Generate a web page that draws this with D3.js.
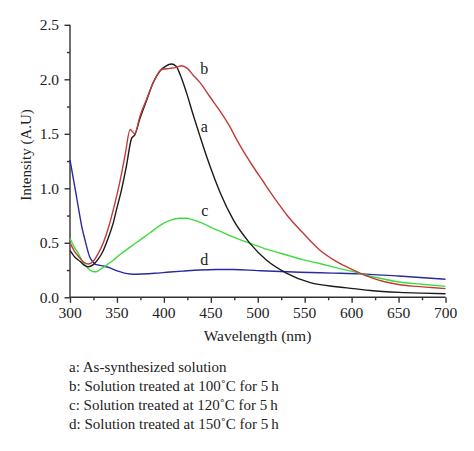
<!DOCTYPE html>
<html><head><meta charset="utf-8">
<script src="https://cdn.jsdelivr.net/npm/d3@7"></script>
<style>body{margin:0;background:#fff}svg{display:block}text{font-family:"Liberation Serif","DejaVu Serif",serif;fill:#222}</style>
</head><body><svg id="c" width="474" height="451"></svg>
<script>
const xTicks = [300,350,400,450,500,550,600,650,700];
const yTicks = [0.0,0.5,1.0,1.5,2.0,2.5];
const seriesNames = ["a","b","c","d"];
const seriesColors = ["#1a1a1a","#c23b36","#3fdc3f","#2a2aa0"];
const aX = [300,305,310.6,315,319.5,324.8,330,335.5,341,346,350,355,360,365.7,369,374.5,381.7,388.7,395.8,402,408,413,417.5,424,431,438,446,454,460,474,491.7,509.5,531,556,584,602,620,651,675,700];
const aY = [0.43,0.37,0.33,0.295,0.28,0.30,0.35,0.43,0.55,0.68,0.82,0.99,1.2,1.46,1.49,1.64,1.81,1.97,2.075,2.12,2.14,2.12,2.04,1.88,1.68,1.49,1.28,1.09,0.96,0.71,0.495,0.34,0.22,0.134,0.097,0.08,0.062,0.045,0.038,0.033];
const bX = [300,305,310.6,315,319.5,324.8,330,335.5,341,346,350,355,359,364,369,374.5,381.7,388.7,397.6,406.5,413,419,425,431,438.5,449,459.7,470,478,495,506,513,522,531,548.5,566,584,602,618,634,650,669,685,700];
const bY = [0.5,0.42,0.36,0.32,0.305,0.33,0.4,0.5,0.64,0.8,0.94,1.14,1.32,1.54,1.5,1.66,1.82,1.97,2.09,2.1,2.11,2.125,2.1,2.04,1.97,1.84,1.71,1.57,1.44,1.2,1.06,0.97,0.86,0.755,0.587,0.434,0.327,0.25,0.19,0.145,0.117,0.1,0.09,0.08];
const cX = [300,304,309,313,317.7,321,324.8,328,332,339,346,353,364,374.5,385,396,406.5,417,424,431,438,445,452,460,475,481,492,510,531,548,566,584,602,615,630,651,675,700];
const cY = [0.54,0.47,0.40,0.33,0.28,0.25,0.235,0.235,0.255,0.296,0.34,0.39,0.46,0.525,0.59,0.66,0.705,0.725,0.725,0.71,0.69,0.665,0.635,0.605,0.55,0.53,0.495,0.44,0.388,0.345,0.31,0.27,0.235,0.205,0.175,0.14,0.12,0.10];
const dX = [300,306,310.6,313,316,318.5,321,324,326.6,331,335.5,342.6,348,353,358,364,371,378,390,406.5,420,438,456,474,500,545,580,609,650,700];
const dY = [1.26,0.97,0.74,0.63,0.525,0.44,0.37,0.33,0.305,0.295,0.287,0.27,0.25,0.235,0.222,0.214,0.212,0.214,0.22,0.232,0.24,0.25,0.255,0.255,0.245,0.23,0.222,0.215,0.195,0.165];
const labelX = [443,443,443.5,443];
const labelY = [1.57,2.10,0.80,0.35];
const legendLines = ["a: As-synthesized solution","b: Solution treated at 100\u02DAC for 5\u2009h","c: Solution treated at 120\u02DAC for 5\u2009h","d: Solution treated at 150\u02DAC for 5\u2009h"];

const svg = d3.select("#c");
const x = d3.scaleLinear().domain([300,700]).range([70,445.5]);
const y = d3.scaleLinear().domain([0,2.5]).range([297.3,24.8]);

const gx = svg.append("g").attr("transform","translate(0,297.3)");
gx.call(d3.axisBottom(x).tickValues(d3.range(300,701,25)).tickSize(3).tickFormat(""));
gx.call(g=>g.selectAll(".tick").filter(d=>d%50===0).select("line").attr("y2",5.5));
gx.selectAll("path,line").attr("stroke","#333").attr("stroke-width",1.4);
gx.select(".domain").attr("d","M70,0H445.5");
gx.selectAll(".lbl").data(xTicks).enter().append("text").attr("class","lbl")
  .attr("x",d=>x(d)).attr("y",20.5).attr("text-anchor","middle").style("font-size","15.5px").text(d=>d);

const gy = svg.append("g").attr("transform","translate(70,0)");
gy.call(d3.axisLeft(y).tickValues(d3.range(0,2.51,0.25)).tickSize(3).tickFormat(""));
gy.call(g=>g.selectAll(".tick").filter((d,i)=>i%2===0).select("line").attr("x2",-5.5));
gy.selectAll("path,line").attr("stroke","#333").attr("stroke-width",1.4);
gy.select(".domain").attr("d","M0,24.8V297.3");
gy.selectAll(".lbl").data(yTicks).enter().append("text").attr("class","lbl")
  .attr("x",-11).attr("y",d=>y(d)).attr("dy","0.35em").attr("text-anchor","end").style("font-size","15.5px").text(d=>d.toFixed(1));

svg.append("text").attr("transform","translate(26,155) rotate(-90)").attr("text-anchor","middle").attr("dy","0.35em").style("font-size","15px").text("Intensity (A.U)");
svg.append("text").attr("x",257.5).attr("y",341).attr("text-anchor","middle").style("font-size","15.5px").text("Wavelength (nm)");

const data = [[aX,aY],[bX,bY],[cX,cY],[dX,dY]];
const line = d3.line().x(d=>x(d[0])).y(d=>y(d[1])).curve(d3.curveMonotoneX);
[3,2,0,1].forEach(i=>{
  const pts = data[i][0].map((v,k)=>[v,data[i][1][k]]);
  svg.append("path").attr("d",line(pts)).attr("fill","none").attr("stroke",seriesColors[i]).attr("stroke-width",1.4);
});
svg.selectAll(".sl").data(seriesNames).enter().append("text").attr("class","sl")
  .attr("x",(d,i)=>x(labelX[i])).attr("y",(d,i)=>y(labelY[i])).attr("text-anchor","middle").attr("dy","0.35em")
  .style("font-size","16px").text(d=>d);

svg.selectAll(".lg").data(legendLines).enter().append("text").attr("class","lg")
  .attr("x",69).attr("y",(d,i)=>372+i*19).style("font-size","15px").text(d=>d);
</script></body></html>
